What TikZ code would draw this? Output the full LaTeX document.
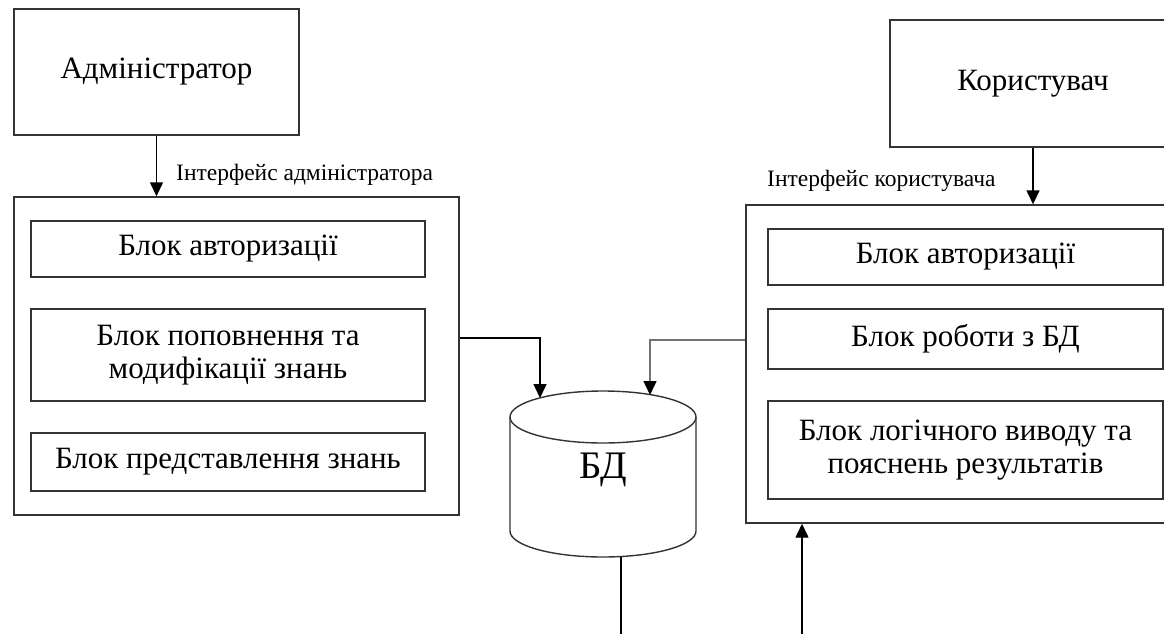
\documentclass[tikz,border=0pt]{standalone}
\usepackage{fontspec}
\setmainfont{Liberation Serif}
\usetikzlibrary{arrows.meta}
\begin{document}
\begin{tikzpicture}[x=1pt,y=-1pt,
  box/.style={draw=black!80, line width=1.4pt, inner sep=0pt, align=center,
    font=\fontsize{31}{33}\selectfont},
  lbl/.style={inner sep=0pt, anchor=west, font=\fontsize{23.5}{26}\selectfont},
  arr/.style={line width=1.4pt, -{Triangle[length=14pt,width=13pt,black]}},
  ln/.style={line width=1.4pt}
]
\useasboundingbox (0,0) rectangle (1164,633);
\clip (0,0) rectangle (1164,633);
\fill[white] (0,0) rectangle (1164,633);

% actors
\node[box, minimum width=285pt, minimum height=126pt] (adm) at (156.5,72) {Адміністратор};
\node[box, minimum width=286pt, minimum height=127pt] (usr) at (1033,83.5) {Користувач};

% outer boxes
\node[box, minimum width=445pt, minimum height=318pt] (lo) at (236.5,356) {};
\node[box, minimum width=444pt, minimum height=318pt] (ro) at (968,364) {};

% left inner
\node[box, minimum width=394pt, minimum height=56pt] (a1) at (228,249) {Блок авторизації};
\node[box, minimum width=394pt, minimum height=92pt] (a2) at (228,355) {Блок поповнення та\\модифікації знань};
\node[box, minimum width=394pt, minimum height=58pt] (a3) at (228,462) {Блок представлення знань};

% right inner
\node[box, minimum width=395pt, minimum height=56pt] (b1) at (965.5,257) {Блок авторизації};
\node[box, minimum width=395pt, minimum height=60pt] (b2) at (965.5,339) {Блок роботи з БД};
\node[box, minimum width=395pt, minimum height=98pt] (b3) at (965.5,450) {Блок логічного виводу та\\пояснень результатів};

% labels
\node[lbl] (la) at (176,175) {Інтерфейс адміністратора};
\node[lbl] (lu) at (767,181) {Інтерфейс користувача};

% database cylinder
\draw[line width=1.4pt, draw=black!80] (603,417) ellipse[x radius=93pt, y radius=26pt];
\draw[line width=1.4pt, draw=black!80] (510,417) -- (510,531)
   arc[start angle=180, end angle=360, x radius=93pt, y radius=26pt] -- (696,417);
\node[font=\fontsize{39}{42}\selectfont, inner sep=0pt] (bd) at (603,470) {БД};
\coordinate (bdL) at (540,398);
\coordinate (bdR) at (650,395);
\coordinate (bdB) at (621,557);
\coordinate (bot1) at (621,640);
\coordinate (bot2) at (802,640);

% connectors
\draw[arr] (adm.south) -- (lo.north -| adm.south);
\draw[arr] (usr.south) -- (ro.north -| usr.south);
\draw[arr] ([yshift=18pt]lo.east) -| (bdL);
\draw[arr, draw=black!55] ([yshift=24pt]ro.west) -| (bdR);
\draw[ln] (bdB) -- (bot1);
\draw[arr] (bot2) -- (ro.south -| bot2);
\end{tikzpicture}
\end{document}
